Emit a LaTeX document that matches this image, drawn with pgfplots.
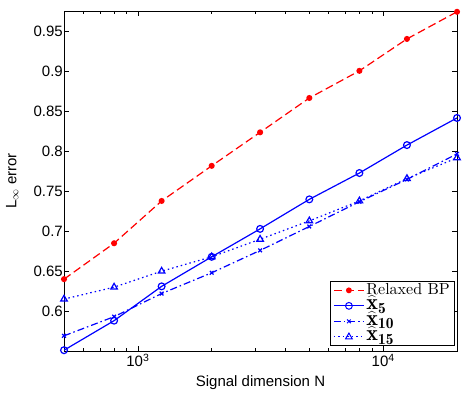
\documentclass[border=0pt]{standalone}
\usepackage{graphicx}
\usepackage{pgfplots}
\pgfplotsset{compat=1.18}
\usepackage{fontspec}
\setsansfont{Liberation Sans}
\newfontfamily\lmten[Extension=.otf, BoldFont=lmroman10-bold]{lmroman10-regular}
\newcommand{\xhat}[1]{\scalebox{1.38}{$\widehat{\mathbf{x}}_{\mathbf{#1}}$}}

\pgfplotstableread{
N      bp     x5     x10    x15
500    0.640  0.551  0.569  0.615
800    0.685  0.588  0.593  0.630
1250   0.738  0.631  0.622  0.650
2000   0.782  0.668  0.648  0.668
3150   0.824  0.703  0.676  0.690
5000   0.867  0.740  0.706  0.713
8000   0.901  0.773  0.737  0.738
12500  0.941  0.808  0.765  0.766
20000  0.975  0.842  0.797  0.792
}\errtable

\begin{document}
\begin{tikzpicture}
\begin{axis}[
    scale only axis,
    width=393pt, height=340pt,
    xmode=log, log basis x=10,
    xmin=500, xmax=20000,
    ymin=0.55, ymax=0.976,
    xtick={1000,10000},
    xticklabels={10\textsuperscript{3},10\textsuperscript{4}},
    minor xtick={600,700,800,900,2000,3000,4000,5000,6000,7000,8000,9000,20000},
    ytick={0.6,0.65,0.7,0.75,0.8,0.85,0.9,0.95},
    yticklabels={0.6,0.65,0.7,0.75,0.8,0.85,0.9,0.95},
    tick align=inside,
    major tick length=5pt,
    minor tick length=3pt,
    every tick/.style={black, line width=0.5pt},
    axis line style={line width=0.6pt},
    font=\sffamily\fontsize{15}{18}\selectfont,
    yticklabel style={inner xsep=1pt},
    xticklabel style={inner ysep=3pt},
    xlabel={Signal dimension N},
    xlabel style={at={(axis description cs:0.5,0)}, anchor=north, yshift=-21pt},
    ylabel={L$_\infty$ error},
    ylabel style={at={(axis description cs:-0.107,0.5)}, anchor=south},
    legend style={font=\lmten\fontsize{16}{17}\selectfont,
        at={(0.995,0.015)}, anchor=south east, draw=black, line width=0.6pt,
        inner xsep=3pt, inner ysep=1pt, row sep=0pt,
        nodes={inner ysep=0.25pt, inner xsep=2pt, text height=11.5pt, text depth=3.5pt},
        cells={anchor=west}},
    legend image code/.code={%
        \draw[line width=1pt, mark repeat=2, mark phase=2]
        plot coordinates {(0pt,0pt) (15pt,0pt) (30pt,0pt)};},
    every axis plot/.append style={line width=1.2pt, mark options={solid}},
]
\addplot[red, dash pattern=on 8pt off 4pt, mark=*, mark size=2.4pt]
    table[x=N, y=bp] {\errtable};
\addplot[blue, mark=o, mark size=3.4pt]
    table[x=N, y=x5] {\errtable};
\addplot[blue, dash pattern=on 7pt off 3pt on 1.5pt off 3pt, mark=x, mark size=2.6pt]
    table[x=N, y=x10] {\errtable};
\addplot[blue, dash pattern=on 1.5pt off 3pt, mark=triangle, mark size=3.8pt]
    table[x=N, y=x15] {\errtable};
\legend{Relaxed BP, \xhat{5}, \xhat{10}, \xhat{15}}
\end{axis}
\path ([shift={(-64pt,-43pt)}]current axis.south west)
    rectangle ([shift={(6pt,11pt)}]current axis.north east);
\end{tikzpicture}
\end{document}
